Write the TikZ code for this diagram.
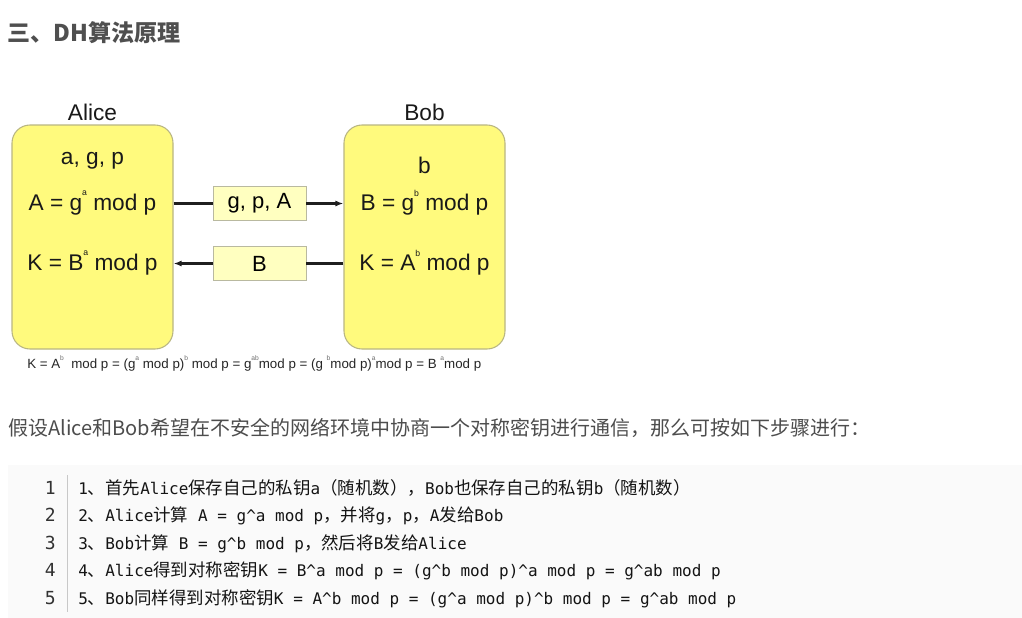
\documentclass[tikz,border=0pt]{standalone}
\usepackage{fontspec}
\setmainfont{Liberation Sans}
\newfontfamily\zhfont{Noto Sans CJK SC}
\newfontfamily\codefont{DejaVu Sans Mono}
\usetikzlibrary{arrows.meta}
\definecolor{titlegray}{RGB}{79,79,79}
\definecolor{paragray}{RGB}{77,77,77}
\definecolor{boxyellow}{RGB}{255,250,125}
\definecolor{boxedge}{RGB}{185,182,130}
\definecolor{msgfill}{RGB}{255,255,192}
\definecolor{msgedge}{RGB}{185,185,160}
\definecolor{codebg}{RGB}{250,250,250}
\definecolor{codeline}{RGB}{200,200,200}
\definecolor{codetext}{RGB}{20,20,20}
\definecolor{numgray}{RGB}{50,50,50}
\definecolor{supgray}{RGB}{110,110,110}
\newcommand\zh[1]{{\zhfont\fontsize{13.1}{15}\selectfont #1}}
\newcommand\sups[1]{\raisebox{0.62em}{\fontsize{6.5}{6.5}\selectfont #1}}
\newcommand\tsup[1]{\raisebox{0.6em}{\fontsize{5}{5}\selectfont\color{supgray}#1}}
\tikzset{
  party/.style={draw=boxedge, line width=0.8pt, fill=boxyellow, rounded corners=13.5pt,
    minimum width=120.75pt, minimum height=168pt, inner sep=0pt},
  msgbox/.style={draw=msgedge, line width=0.6pt, fill=msgfill,
    minimum width=69.75pt, minimum height=25.5pt, inner sep=0pt,
    font=\fontsize{16.5}{18}\selectfont},
  dtext/.style={font=\fontsize{17}{19}\selectfont, inner sep=0pt, text=black!90},
  conn/.style={line width=1.6pt, draw=black!88},
  codeln/.style={anchor=west, inner sep=0pt, text height=12pt, text depth=3pt,
    font=\codefont\fontsize{12}{14}\selectfont, text=codetext},
  numln/.style={anchor=east, inner sep=0pt, text height=12pt, text depth=3pt,
    font=\codefont\fontsize{13.5}{15}\selectfont, text=numgray}
}
\begin{document}
\begin{tikzpicture}[x=0.75pt,y=-0.75pt]
\useasboundingbox (0,0) rectangle (1022,618);
\fill[white] (0,0) rectangle (1022,618);

% title
\node[anchor=west, inner sep=0pt, text=titlegray] (title) at (7,33)
  {\zhfont\bfseries\fontsize{17.3}{20}\selectfont 三、DH算法原理};

% diagram
\node[party] (alice) at (92.5,237) {};
\node[party] (bob) at (424.5,237) {};
\node[dtext] (alicelbl) at (92.5,112) {Alice};
\node[dtext] (boblbl) at (424.5,112) {Bob};

\node[dtext] (a1) at (92.5,161) {a, g, p};
\node[dtext] (a2) at (92.5,203) {A = g\sups{a} mod p};
\node[dtext] (a3) at (92.5,263) {K = B\sups{a} mod p};
\node[dtext] (b1) at (424.5,165) {b};
\node[dtext] (b2) at (424.5,203) {B = g\sups{b} mod p};
\node[dtext] (b3) at (424.5,263) {K = A\sups{b} mod p};

\node[msgbox] (m1) at (259.5,203.5) {g, p, A};
\node[msgbox] (m2) at (259.5,263.5) {B};

\draw[conn] (alice.east |- m1) -- (m1.west);
\draw[conn, -{Latex[length=6pt,width=4.5pt]}] (m1.east) -- (bob.west |- m1);
\draw[conn] (bob.west |- m2) -- (m2.east);
\draw[conn, -{Latex[length=6pt,width=4.5pt]}] (m2.west) -- (alice.east |- m2);

\node[anchor=west, inner sep=0pt, font=\fontsize{10}{12}\selectfont, text=black!85] (formula) at (27,363)
  {K = A\tsup{b}\ \ mod p = (g\tsup{a} mod p)\tsup{b} mod p = g\tsup{ab}mod p = (g \tsup{b}mod p)\tsup{a}mod p = B \tsup{a}mod p};

% paragraph
\node[anchor=west, inner sep=0pt, text=paragray] (para) at (8,428)
  {\zhfont\fontsize{15}{18}\selectfont 假设Alice和Bob希望在不安全的网络环境中协商一个对称密钥进行通信，那么可按如下步骤进行：};

% code block
\fill[codebg] (8,465) rectangle (1022,618);
\coordinate (sepTop) at (67.5,475);
\coordinate (sepBot) at (67.5,612);
\draw[codeline, line width=1pt] (sepTop) -- (sepBot);

\node[numln] (n1) at (56,488) {1};
\node[numln] (n2) at (56,515.5) {2};
\node[numln] (n3) at (56,543) {3};
\node[numln] (n4) at (56,570.5) {4};
\node[numln] (n5) at (56,598) {5};

\node[codeln] (c1) at (78,488) {1\zh{、首先}Alice\zh{保存自己的私钥}a\zh{（随机数），}Bob\zh{也保存自己的私钥}b\zh{（随机数）}};
\node[codeln] (c2) at (78,515.5) {2\zh{、}Alice\zh{计算} A = g\textasciicircum a mod p\zh{，并将}g\zh{，}p\zh{，}A\zh{发给}Bob};
\node[codeln] (c3) at (78,543) {3\zh{、}Bob\zh{计算} B = g\textasciicircum b mod p\zh{，然后将}B\zh{发给}Alice};
\node[codeln] (c4) at (78,570.5) {4\zh{、}Alice\zh{得到对称密钥}K = B\textasciicircum a mod p = (g\textasciicircum b mod p)\textasciicircum a mod p = g\textasciicircum ab mod p};
\node[codeln] (c5) at (78,598) {5\zh{、}Bob\zh{同样得到对称密钥}K = A\textasciicircum b mod p = (g\textasciicircum a mod p)\textasciicircum b mod p = g\textasciicircum ab mod p};
\end{tikzpicture}
\end{document}
